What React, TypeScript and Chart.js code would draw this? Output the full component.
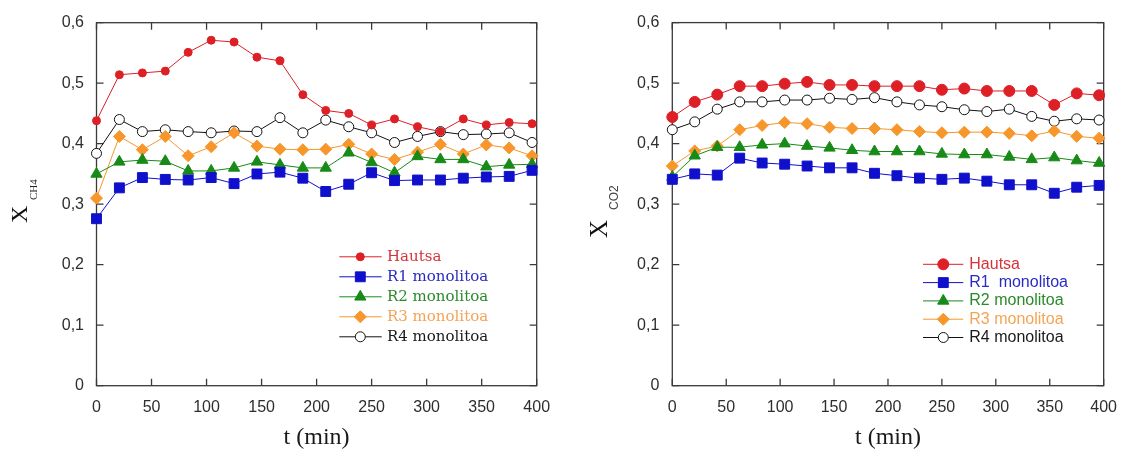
import React, { useEffect, useRef } from 'react';
import { Chart, registerables } from 'chart.js';
import { drawPoint } from 'chart.js/helpers';

Chart.register(...registerables);

// Sampling times (min)
const timeMin = [0, 20.8, 41.7, 62.5, 83.3, 104.2, 125, 145.8, 166.7, 187.5, 208.3, 229.2, 250, 270.8, 291.7, 312.5, 333.3, 354.2, 375, 395.8];

// Series labels
const labelsCH4 = ['Hautsa', 'R1 monolitoa', 'R2 monolitoa', 'R3 monolitoa', 'R4 monolitoa'];
const labelsCO2 = ['Hautsa', 'R1  monolitoa', 'R2 monolitoa', 'R3 monolitoa', 'R4 monolitoa'];

// Methane molar fraction
const ch4Hautsa = [0.438, 0.514, 0.517, 0.520, 0.551, 0.571, 0.568, 0.543, 0.537, 0.481, 0.455, 0.450, 0.431, 0.441, 0.428, 0.420, 0.441, 0.431, 0.435, 0.433];
const ch4R1 = [0.276, 0.327, 0.344, 0.341, 0.340, 0.344, 0.334, 0.350, 0.353, 0.343, 0.321, 0.333, 0.352, 0.339, 0.340, 0.340, 0.343, 0.345, 0.346, 0.356];
const ch4R2 = [0.350, 0.370, 0.373, 0.371, 0.355, 0.355, 0.360, 0.370, 0.365, 0.360, 0.360, 0.385, 0.369, 0.352, 0.379, 0.374, 0.374, 0.362, 0.365, 0.366];
const ch4R3 = [0.310, 0.412, 0.390, 0.412, 0.380, 0.395, 0.418, 0.396, 0.391, 0.390, 0.391, 0.399, 0.383, 0.374, 0.386, 0.399, 0.383, 0.398, 0.393, 0.380];
const ch4R4 = [0.384, 0.440, 0.420, 0.423, 0.420, 0.418, 0.421, 0.420, 0.443, 0.418, 0.439, 0.428, 0.418, 0.402, 0.412, 0.420, 0.415, 0.416, 0.418, 0.402];

// Carbon dioxide molar fraction
const co2Hautsa = [0.444, 0.469, 0.481, 0.495, 0.495, 0.499, 0.502, 0.497, 0.497, 0.495, 0.495, 0.495, 0.489, 0.491, 0.487, 0.487, 0.487, 0.464, 0.483, 0.480];
const co2R1 = [0.341, 0.350, 0.348, 0.376, 0.368, 0.366, 0.363, 0.360, 0.360, 0.351, 0.347, 0.343, 0.341, 0.343, 0.338, 0.332, 0.332, 0.318, 0.328, 0.331];
const co2R2 = [0.345, 0.380, 0.394, 0.394, 0.398, 0.400, 0.396, 0.393, 0.389, 0.387, 0.387, 0.387, 0.383, 0.382, 0.382, 0.378, 0.374, 0.377, 0.372, 0.368];
const co2R3 = [0.363, 0.388, 0.396, 0.423, 0.430, 0.435, 0.433, 0.427, 0.425, 0.425, 0.423, 0.420, 0.418, 0.419, 0.419, 0.417, 0.413, 0.421, 0.412, 0.409];
const co2R4 = [0.423, 0.436, 0.457, 0.469, 0.469, 0.472, 0.472, 0.475, 0.473, 0.476, 0.469, 0.464, 0.461, 0.456, 0.453, 0.457, 0.445, 0.437, 0.441, 0.439];

// Axis ranges
const xMin = 0, xMax = 400, xStep = 50;
const yMin = 0, yMax = 0.6, yStep = 0.1;

const LINE_COLORS = ['#dd1f26', '#1010cc', '#178a17', '#f7962a', '#111111'];
const TEXT_COLORS = ['#d6333a', '#2a2ac4', '#2a8a2a', '#f4a455', '#1a1a1a'];
const POINT_STYLES = ['circle', 'rect', 'triangle', 'rectRot', 'circle'];
const POINT_FILLS = ['#dd1f26', '#1010cc', '#178a17', '#f7962a', '#ffffff'];

const fmtY = (v: number) => (Math.abs(v) < 1e-9 ? '0' : Number(v).toFixed(1).replace('.', ','));

// Box frame with inward ticks on all four sides
const framePlugin = {
  id: 'frameTicks',
  beforeDatasetsDraw(chart: any) {
    const { ctx, chartArea: a, scales } = chart;
    const x = scales.x, y = scales.y;
    const len = 7;
    ctx.save();
    ctx.strokeStyle = '#3a3a3a';
    ctx.lineWidth = 1.3;
    ctx.strokeRect(a.left, a.top, a.right - a.left, a.bottom - a.top);
    ctx.beginPath();
    x.ticks.forEach((t: any) => {
      const px = x.getPixelForValue(t.value);
      ctx.moveTo(px, a.bottom); ctx.lineTo(px, a.bottom - len);
      ctx.moveTo(px, a.top); ctx.lineTo(px, a.top + len);
    });
    y.ticks.forEach((t: any) => {
      const py = y.getPixelForValue(t.value);
      ctx.moveTo(a.left, py); ctx.lineTo(a.left + len, py);
      ctx.moveTo(a.right, py); ctx.lineTo(a.right - len, py);
    });
    ctx.stroke();
    ctx.restore();
  },
};

// Legend drawn inside the plot area
const insetLegendPlugin = {
  id: 'insetLegend',
  afterDatasetsDraw(chart: any, _args: any, o: any) {
    const { ctx } = chart;
    chart.data.datasets.forEach((ds: any, i: number) => {
      const yy = o.y0 + i * o.dy;
      ctx.save();
      ctx.strokeStyle = ds.borderColor;
      ctx.lineWidth = 1;
      ctx.beginPath();
      ctx.moveTo(o.x0, yy);
      ctx.lineTo(o.x1, yy);
      ctx.stroke();
      ctx.fillStyle = ds.pointBackgroundColor;
      ctx.strokeStyle = ds.pointBorderColor;
      ctx.lineWidth = 1;
      drawPoint(ctx, { pointStyle: ds.pointStyle, radius: ds.pointRadius, rotation: 0, borderWidth: 1 } as any, o.mx, yy);
      ctx.fillStyle = o.textColors[i];
      ctx.font = o.font;
      ctx.textBaseline = 'middle';
      ctx.textAlign = 'left';
      ctx.fillText(ds.label, o.textX, yy);
      ctx.restore();
    });
  },
};

// Rotated y-axis title with a subscript
const yTitlePlugin = {
  id: 'yTitleSub',
  afterDraw(chart: any, _args: any, o: any) {
    const { ctx } = chart;
    ctx.save();
    ctx.translate(o.x, o.y);
    ctx.rotate(-Math.PI / 2);
    ctx.textBaseline = 'alphabetic';
    ctx.textAlign = 'left';
    ctx.fillStyle = o.color;
    ctx.font = o.mainFont;
    ctx.fillText(o.main, 0, 0);
    ctx.font = o.subFont;
    ctx.fillStyle = o.subColor;
    ctx.fillText(o.sub, o.subU, o.subV);
    ctx.restore();
  },
};

function makeDatasets(labels: string[], series: number[][], radii: number[]) {
  return series.map((vals, i) => ({
    label: labels[i],
    data: vals.map((v, k) => ({ x: timeMin[k], y: v })),
    borderColor: LINE_COLORS[i],
    borderWidth: 1,
    pointStyle: POINT_STYLES[i],
    pointRadius: radii[i],
    pointBackgroundColor: POINT_FILLS[i],
    pointBorderColor: LINE_COLORS[i],
    pointBorderWidth: 1,
    tension: 0,
    clip: false,
  }));
}

interface PanelSpec {
  datasets: any[];
  plotLeft: number;
  plotTop: number;
  plotBottom: number;
  padRight: number;
  tickFont: any;
  tickColor: string;
  yPad: number;
  xPad: number;
  legend: any;
  yTitle: any;
}

function makeConfig(s: PanelSpec, height: number): any {
  return {
    type: 'line',
    data: { datasets: s.datasets },
    plugins: [framePlugin, insetLegendPlugin, yTitlePlugin],
    options: {
      responsive: false,
      animation: false,
      devicePixelRatio: 1,
      layout: { padding: { top: s.plotTop, right: s.padRight, left: 0, bottom: 0 } },
      plugins: {
        legend: { display: false },
        tooltip: { enabled: false },
        insetLegend: s.legend,
        yTitleSub: s.yTitle,
      },
      scales: {
        x: {
          type: 'linear',
          min: xMin,
          max: xMax,
          grid: { display: false, drawTicks: false },
          border: { display: false },
          ticks: { stepSize: xStep, font: s.tickFont, color: s.tickColor, padding: s.xPad, maxRotation: 0 },
          title: {
            display: true,
            text: 't (min)',
            font: { family: "'Liberation Serif', serif", size: 24, lineHeight: 1 },
            color: '#1a1a1a',
            padding: { top: 0, bottom: 1 },
          },
          afterFit: (scale: any) => { scale.height = height - s.plotBottom; },
        },
        y: {
          min: yMin,
          max: yMax,
          grid: { display: false, drawTicks: false },
          border: { display: false },
          ticks: { stepSize: yStep, font: s.tickFont, color: s.tickColor, padding: s.yPad, callback: (v: any) => fmtY(Number(v)) },
          afterFit: (scale: any) => { scale.width = s.plotLeft; },
        },
      },
    },
  };
}

function Panel({ left, width, height, spec }: { left: number; width: number; height: number; spec: PanelSpec }) {
  const ref = useRef<HTMLCanvasElement | null>(null);
  useEffect(() => {
    if (!ref.current) return;
    const chart = new Chart(ref.current, makeConfig(spec, height));
    return () => chart.destroy();
  }, []);
  return (
    <canvas
      ref={ref}
      width={width}
      height={height}
      style={{ position: 'absolute', left, top: 0, width, height }}
    />
  );
}

const H = 451;

const ch4Spec: PanelSpec = {
  datasets: makeDatasets(labelsCH4, [ch4Hautsa, ch4R1, ch4R2, ch4R3, ch4R4], [4, 7, 6.5, 6, 5]),
  plotLeft: 96.5,
  plotTop: 22.7,
  plotBottom: 385.7,
  padRight: 565 - 536.7,
  tickFont: { family: "'Liberation Sans Narrow', 'Liberation Sans', sans-serif", size: 16 },
  tickColor: '#2e2e2e',
  yPad: 12.5,
  xPad: 12,
  legend: {
    x0: 339.3, x1: 381.7, mx: 360.3, textX: 387, y0: 256.8, dy: 20,
    font: "15px 'DejaVu Serif', serif",
    textColors: TEXT_COLORS,
  },
  yTitle: {
    x: 27, y: 223, main: 'X', mainFont: "24px 'Liberation Serif', serif", color: '#111',
    sub: 'CH4', subFont: "11px 'Liberation Serif', serif", subColor: '#222', subU: 23, subV: 10,
  },
};

const co2Spec: PanelSpec = {
  datasets: makeDatasets(labelsCO2, [co2Hautsa, co2R1, co2R2, co2R3, co2R4], [5.5, 7, 6.5, 6, 5]),
  plotLeft: 672.3 - 565,
  plotTop: 21.7,
  plotBottom: 385.7,
  padRight: 564 - (1112.7 - 565),
  tickFont: { family: "'Liberation Sans', Arial, sans-serif", size: 16 },
  tickColor: '#2e2e2e',
  yPad: 13,
  xPad: 12,
  legend: {
    x0: 923 - 565, x1: 963.3 - 565, mx: 943.3 - 565, textX: 969.3 - 565, y0: 264.3, dy: 18.3,
    font: "16px 'Liberation Sans', Arial, sans-serif",
    textColors: TEXT_COLORS,
  },
  yTitle: {
    x: 42, y: 238, main: 'X', mainFont: "25px 'Liberation Serif', serif", color: '#111',
    sub: 'CO2', subFont: "12px 'Liberation Sans', sans-serif", subColor: '#444', subU: 28, subV: 11,
  },
};

export default function App() {
  return (
    <div style={{ position: 'absolute', left: 0, top: 0, width: 1129, height: H, background: '#fff' }}>
      <Panel left={0} width={565} height={H} spec={ch4Spec} />
      <Panel left={565} width={564} height={H} spec={co2Spec} />
    </div>
  );
}
